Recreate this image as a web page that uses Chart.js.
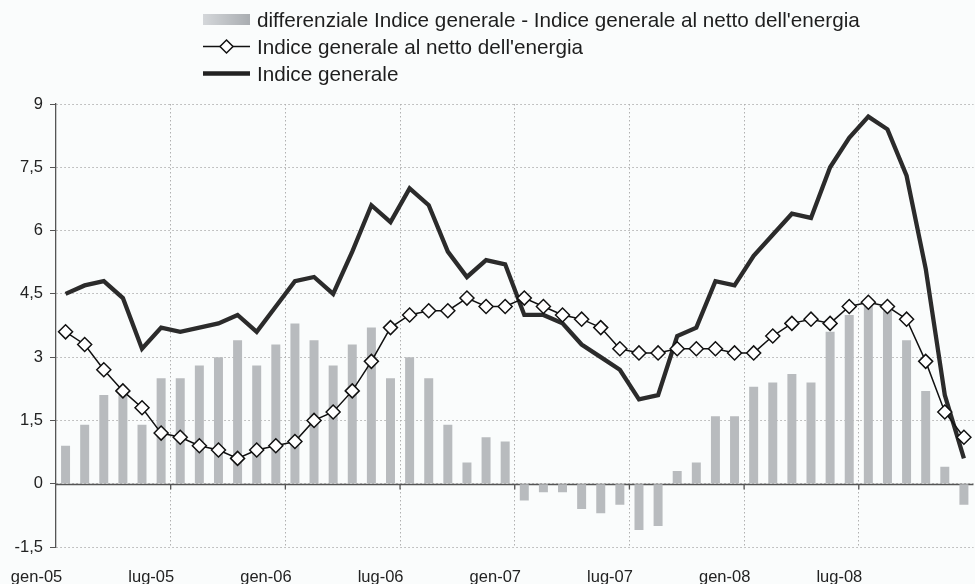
<!DOCTYPE html>
<html>
<head>
<meta charset="utf-8">
<script src="https://cdn.jsdelivr.net/npm/chart.js@4.4.1/dist/chart.umd.min.js"></script>
<style>
html, body { margin:0; padding:0; background:#fafcfc; overflow:hidden; width:975px; height:584px; }
#wrap { position:relative; width:985px; height:584px; }
#legenda { position:absolute; left:203px; top:6px; font-family:"Liberation Sans", Arial, sans-serif; font-size:20.7px; color:#1e1e1e; }
.riga { height:27px; display:flex; align-items:center; white-space:nowrap; }
.riga svg { margin-right:7px; }
</style>
</head>
<body>
<div id="wrap">
  <canvas id="grafico" width="985" height="584"></canvas>
  <div id="legenda"></div>
</div>
<script>
// mesi e anni per le etichette dell'asse x
var mesi = ['gen','feb','mar','apr','mag','giu','lug','ago','set','ott','nov','dic']
var anni = ['05','06','07','08']
var categorie = []
anni.forEach(function(a){ mesi.forEach(function(m){ categorie.push(m + '-' + a) }) })

var nomeDiff = "differenziale Indice generale - Indice generale al netto dell'energia"
var nomeNetto = "Indice generale al netto dell'energia"
var nomeGen = "Indice generale"

// valori
var differenziale = [0.9,1.4,2.1,2.1,1.4,2.5,2.5,2.8,3.0,3.4,2.8,3.3,
  3.8,3.4,2.8,3.3,3.7,2.5,3.0,2.5,1.4,0.5,1.1,1.0,
  -0.4,-0.2,-0.2,-0.6,-0.7,-0.5,-1.1,-1.0,0.3,0.5,1.6,1.6,
  2.3,2.4,2.6,2.4,3.6,4.0,4.3,4.1,3.4,2.2,0.4,-0.5]

var netto = [3.6,3.3,2.7,2.2,1.8,1.2,1.1,0.9,0.8,0.6,0.8,0.9,
  1.0,1.5,1.7,2.2,2.9,3.7,4.0,4.1,4.1,4.4,4.2,4.2,
  4.4,4.2,4.0,3.9,3.7,3.2,3.1,3.1,3.2,3.2,3.2,3.1,
  3.1,3.5,3.8,3.9,3.8,4.2,4.3,4.2,3.9,2.9,1.7,1.1]

var generale = [4.5,4.7,4.8,4.4,3.2,3.7,3.6,3.7,3.8,4.0,3.6,4.2,
  4.8,4.9,4.5,5.5,6.6,6.2,7.0,6.6,5.5,4.9,5.3,5.2,
  4.0,4.0,3.8,3.3,3.0,2.7,2.0,2.1,3.5,3.7,4.8,4.7,
  5.4,5.9,6.4,6.3,7.5,8.2,8.7,8.4,7.3,5.1,2.1,0.6]

var font = { family:'"Liberation Sans", Arial, sans-serif', size:16.5 }

// legenda html
var leg = document.getElementById('legenda')
leg.innerHTML =
  '<div class="riga"><svg width="47" height="27"><defs><linearGradient id="gr" x1="0" x2="1"><stop offset="0" stop-color="#d4d7da"/><stop offset="1" stop-color="#a9adb1"/></linearGradient></defs><rect x="0" y="8" width="47" height="11" fill="url(#gr)"/></svg>' + nomeDiff + '</div>' +
  '<div class="riga"><svg width="47" height="27"><line x1="0" y1="13.5" x2="47" y2="13.5" stroke="#111" stroke-width="1.5"/><polygon points="23.5,7 30,13.5 23.5,20 17,13.5" fill="#fff" stroke="#111" stroke-width="1.5"/></svg>' + nomeNetto + '</div>' +
  '<div class="riga"><svg width="47" height="27"><line x1="0" y1="13.5" x2="47" y2="13.5" stroke="#222" stroke-width="4.5"/></svg>' + nomeGen + '</div>'

// linea dello zero con le tacche ogni 6 mesi
var asseZero = {
  id: 'asseZero',
  beforeDatasetsDraw: function(chart){
    var c = chart.ctx, x = chart.scales.x, y = chart.scales.y, a = chart.chartArea
    var y0 = Math.round(y.getPixelForValue(0)) + 0.5
    c.save()
    c.strokeStyle = '#555'
    c.lineWidth = 1.3
    c.beginPath()
    c.moveTo(a.left, y0)
    c.lineTo(a.right, y0)
    for (var i = 6; i < categorie.length; i += 6) {
      var xx = (x.getPixelForValue(i - 1) + x.getPixelForValue(i)) / 2
      c.moveTo(xx, y0)
      c.lineTo(xx, y0 + 5)
    }
    c.stroke()
    c.restore()
  }
}

var ctx = document.getElementById('grafico').getContext('2d')
var grafico = new Chart(ctx, {
  type: 'bar',
  data: {
    labels: categorie,
    datasets: [{
      type: 'line',
      label: nomeNetto,
      data: netto,
      borderColor: '#111',
      borderWidth: 1.5,
      pointStyle: 'rectRot',
      pointRadius: 7,
      pointBackgroundColor: '#fff',
      pointBorderColor: '#111',
      pointBorderWidth: 1.5,
      tension: 0,
      order: 1
    }, {
      type: 'line',
      label: nomeGen,
      data: generale,
      borderColor: '#2b2b2b',
      borderWidth: 4.3,
      pointRadius: 0,
      tension: 0,
      order: 2
    }, {
      type: 'bar',
      label: nomeDiff,
      data: differenziale,
      backgroundColor: '#b8bbbe',
      barPercentage: 0.47,
      categoryPercentage: 1,
      order: 3
    }]
  },
  options: {
    responsive: false,
    animation: false,
    layout: { padding: { top: 104, right: 3, left: 0, bottom: 0 } },
    plugins: { legend: { display: false }, tooltip: { enabled: false } },
    scales: {
      x: {
        offset: true,
        grid: {
          offset: true,
          drawTicks: false,
          color: function(c){ return (c.index > 0 && c.index % 6 === 0) ? '#b0b0b0' : 'rgba(0,0,0,0)' }
        },
        border: { display: false, dash: [1.5, 2.5] },
        ticks: {
          autoSkip: false,
          maxRotation: 0,
          padding: 21,
          labelOffset: -29,
          color: '#222',
          font: font,
          callback: function(v, i){ return i % 6 === 0 ? categorie[i] : '' }
        },
        afterFit: function(s){ s.height = 37 }
      },
      y: {
        min: -1.5,
        max: 9,
        ticks: {
          stepSize: 1.5,
          padding: 7,
          color: '#222',
          font: font,
          callback: function(v){ return String(v).replace('.', ',') }
        },
        grid: { color: '#b0b0b0', tickColor: '#555', tickLength: 6 },
        border: { color: '#555', width: 1.3, dash: [1.5, 2.5] },
        afterFit: function(s){ s.width = 56 }
      }
    }
  },
  plugins: [asseZero]
})
</script>
</body>
</html>
